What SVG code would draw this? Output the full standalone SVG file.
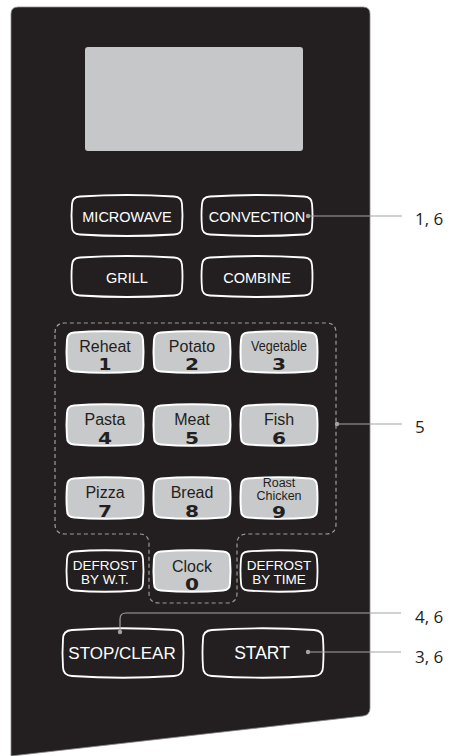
<svg xmlns="http://www.w3.org/2000/svg" xmlns:xlink="http://www.w3.org/1999/xlink" width="452" height="756" viewBox="0 0 452 756">
<style>
.panel{fill:#231f20;stroke:#8a8a8a;stroke-width:0.8}
.mode{fill:#231f20;stroke:#ffffff;stroke-width:1.8}
.num{fill:#c8c9cb;stroke:#ffffff;stroke-width:2}
.t{font-family:"Liberation Sans",Arial,sans-serif;text-anchor:middle}
.wt{fill:#ffffff}
.dk{fill:#231f20}
.dg{font-family:"DejaVu Sans",sans-serif;font-weight:bold;font-size:16px;fill:#231f20;text-anchor:middle}
.lead{fill:none;stroke:#a3a3a3;stroke-width:1.2}
.dot{fill:#a3a3a3}
.lbl{font-family:"Open Sans","Noto Sans",sans-serif;font-size:17px;fill:#231f20}
.dash{fill:none;stroke:#9c9c9c;stroke-width:1.2;stroke-dasharray:4 3}
</style>
<defs>
<path id="bm" d="M8,1.5 Q55,-1.5 102,1.5 Q110,2 110,9 Q111,20.5 110,32 Q110,39 102,39.5 Q55,42.5 8,39.5 Q0,39 0,32 Q-1,20.5 0,9 Q0,2 8,1.5 Z"/>
<path id="bn" d="M7,1.5 Q38,-1 69,1.5 Q76,2 76,9 Q77,21 76,33 Q76,40 69,40.5 Q38,43 7,40.5 Q0,40 0,33 Q-1,21 0,9 Q0,2 7,1.5 Z"/>
<path id="bb" d="M9,2 Q60,-1.5 111,2 Q120,2.5 120,11 Q121,25 120,39 Q120,47.5 111,48 Q60,51.5 9,48 Q0,47.5 0,39 Q-1,25 0,11 Q0,2.5 9,2 Z"/>
</defs>
<g id="panel">
<path class="panel" d="M11,14 Q11,7 18,7 H363 Q370,7 370,14 V708 Q370,715 363,716 L11,756 Z"/>
<rect id="display" x="85" y="47" width="218" height="104" rx="3" fill="#c6c7c9"/>
<path class="dash" d="M55,333 Q55,323 65,323 H326 Q336,323 336,333 V524 Q336,534 326,534 H247 Q237,534 237,544 V593 Q237,603 227,603 H159 Q149,603 149,593 V544 Q149,534 139,534 H65 Q55,534 55,524 Z"/>
</g>
<g id="microwave"><use xlink:href="#bm" class="mode" x="72" y="195"/><text class="t wt" x="127" y="222" font-size="14.5">MICROWAVE</text></g>
<g id="convection"><use xlink:href="#bm" class="mode" x="202" y="195"/><text class="t wt" x="257" y="222" font-size="14.5">CONVECTION</text></g>
<g id="grill"><use xlink:href="#bm" class="mode" x="72" y="256"/><text class="t wt" x="127" y="283" font-size="14.5">GRILL</text></g>
<g id="combine"><use xlink:href="#bm" class="mode" x="202" y="256"/><text class="t wt" x="257" y="283" font-size="14.5">COMBINE</text></g>

<g id="reheat"><use xlink:href="#bn" class="num" x="67" y="331"/><text class="t dk" x="105" y="352" font-size="16">Reheat</text><text class="dg" x="105" y="370" textLength="13" lengthAdjust="spacingAndGlyphs">1</text></g>
<g id="potato"><use xlink:href="#bn" class="num" x="154" y="331"/><text class="t dk" x="192" y="352" font-size="16">Potato</text><text class="dg" x="192" y="370" textLength="14" lengthAdjust="spacingAndGlyphs">2</text></g>
<g id="vegetable"><use xlink:href="#bn" class="num" x="241" y="331"/><text class="t dk" x="279" y="351" font-size="15" textLength="56" lengthAdjust="spacingAndGlyphs">Vegetable</text><text class="dg" x="279" y="370" textLength="14" lengthAdjust="spacingAndGlyphs">3</text></g>

<g id="pasta"><use xlink:href="#bn" class="num" x="67" y="404"/><text class="t dk" x="105" y="425" font-size="16">Pasta</text><text class="dg" x="105" y="444" textLength="14" lengthAdjust="spacingAndGlyphs">4</text></g>
<g id="meat"><use xlink:href="#bn" class="num" x="154" y="404"/><text class="t dk" x="192" y="425" font-size="16">Meat</text><text class="dg" x="192" y="444" textLength="14" lengthAdjust="spacingAndGlyphs">5</text></g>
<g id="fish"><use xlink:href="#bn" class="num" x="241" y="404"/><text class="t dk" x="279" y="425" font-size="16">Fish</text><text class="dg" x="279" y="444" textLength="14" lengthAdjust="spacingAndGlyphs">6</text></g>

<g id="pizza"><use xlink:href="#bn" class="num" x="67" y="477"/><text class="t dk" x="105" y="498" font-size="16">Pizza</text><text class="dg" x="105" y="517" textLength="14" lengthAdjust="spacingAndGlyphs">7</text></g>
<g id="bread"><use xlink:href="#bn" class="num" x="154" y="477"/><text class="t dk" x="192" y="498" font-size="16">Bread</text><text class="dg" x="192" y="517" textLength="14" lengthAdjust="spacingAndGlyphs">8</text></g>
<g id="roast-chicken"><use xlink:href="#bn" class="num" x="241" y="477"/><text class="t dk" x="279" y="486.5" font-size="12.5">Roast</text><text class="t dk" x="279" y="500" font-size="12.5">Chicken</text><text class="dg" x="279" y="518" font-size="13px" textLength="14" lengthAdjust="spacingAndGlyphs">9</text></g>

<g id="defrost-wt"><use xlink:href="#bn" class="mode" x="67" y="550"/><text class="t wt" x="105" y="570" font-size="13.5">DEFROST</text><text class="t wt" x="105" y="584" font-size="13.5">BY W.T.</text></g>
<g id="clock"><use xlink:href="#bn" class="num" x="154" y="550"/><text class="t dk" x="192" y="572" font-size="16">Clock</text><text class="dg" x="192" y="590" textLength="14" lengthAdjust="spacingAndGlyphs">0</text></g>
<g id="defrost-time"><use xlink:href="#bn" class="mode" x="241" y="550"/><text class="t wt" x="279" y="570" font-size="13.5">DEFROST</text><text class="t wt" x="279" y="584" font-size="13.5">BY TIME</text></g>

<g id="stop-clear"><use xlink:href="#bb" class="mode" x="63" y="628"/><text class="t wt" x="122" y="659" font-size="17">STOP/CLEAR</text></g>
<g id="start"><use xlink:href="#bb" class="mode" x="203" y="628"/><text class="t wt" x="262" y="659" font-size="17.5">START</text></g>

<g id="connectors">
<path class="lead" d="M308,216 H402"/><circle class="dot" cx="308" cy="216" r="2.2"/>
<path class="lead" d="M337,424 H402"/><circle class="dot" cx="337" cy="424" r="2.2"/>
<path class="lead" d="M120,632 V619 Q120,613 126,613 H401"/><circle class="dot" cx="120" cy="632" r="2.2"/>
<path class="lead" d="M308,652 H401"/><circle class="dot" cx="308" cy="652" r="2.2"/>
</g>
<g id="labels">
<text class="lbl" x="415" y="225">1, 6</text>
<text class="lbl" x="415" y="433">5</text>
<text class="lbl" x="415" y="623">4, 6</text>
<text class="lbl" x="415" y="663">3, 6</text>
</g>
</svg>
